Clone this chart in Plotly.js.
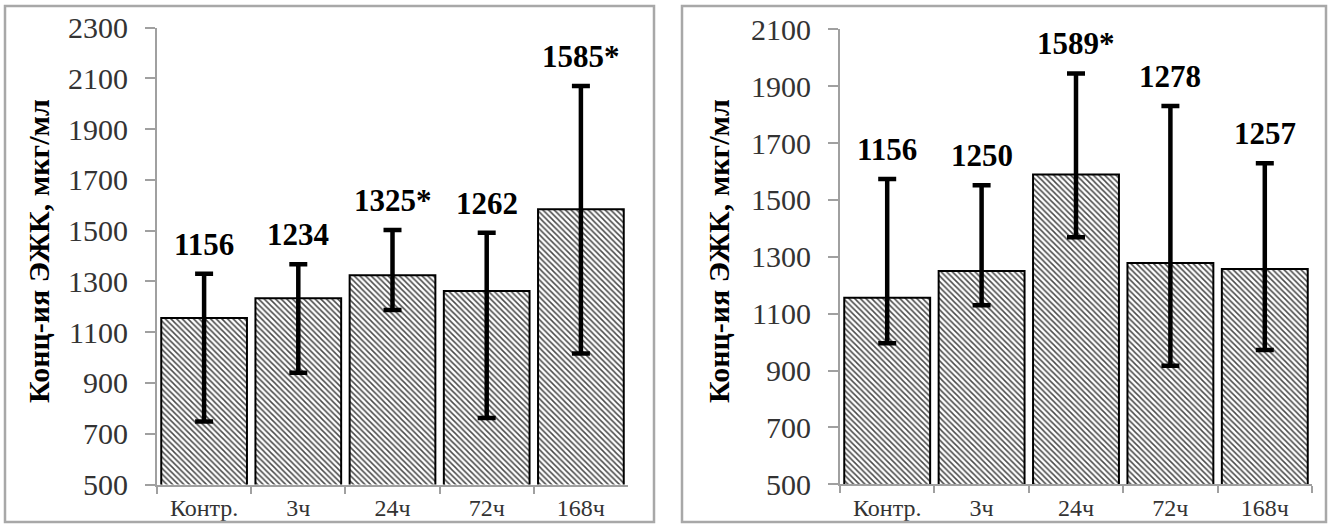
<!DOCTYPE html>
<html>
<head>
<meta charset="utf-8">
<script src="https://cdn.plot.ly/plotly-3.0.1.min.js"></script>
<style>html,body{margin:0;padding:0;background:#fff;}#chart{width:1330px;height:524px;}</style>
</head>
<body>
<div id="chart"></div>
<script>
// ---- data ----
const categories = ['Контр.', '3ч', '24ч', '72ч', '168ч'];

const leftMeans = [1156, 1234, 1325, 1262, 1585];
const leftErrPlus = [174, 134, 178, 230, 485];
const leftErrMinus = [408, 294, 137, 500, 569];
const leftMarks = ['', '', '*', '', '*'];

const rightMeans = [1156, 1250, 1589, 1278, 1257];
const rightErrPlus = [418, 302, 356, 552, 372];
const rightErrMinus = [160, 120, 220, 361, 285];
const rightMarks = ['', '', '*', '', ''];

const yTitle = 'Конц-ия ЭЖК, мкг/мл';

// ---- styling ----
const SERIF = '"Liberation Serif", "Times New Roman", serif';
const AXC = '#a0a0a0';
const W = 1330, H = 524;

function barTrace(means, ep, em, xa, ya) {
  return {
    type: 'bar', x: categories, y: means, xaxis: xa, yaxis: ya,
    marker: {
      color: 'white',
      line: {color: '#000', width: 2},
      pattern: {shape: '\\', size: 4, solidity: 0.38, fgcolor: '#4a4a4a', bgcolor: 'white', fillmode: 'replace'}
    },
    error_y: {type: 'data', symmetric: false, array: ep, arrayminus: em, color: '#000', thickness: 4.5, width: 9},
    hoverinfo: 'skip', showlegend: false
  };
}

function labelAnns(means, ep, marks, xr, yr) {
  return means.map((m, i) => ({
    xref: xr, yref: yr, x: categories[i], y: m + ep[i],
    text: String(m) + marks[i], showarrow: false,
    yanchor: 'bottom', yshift: 10,
    font: {family: SERIF, size: 31, color: '#000', weight: 'bold'}
  }));
}

const xCommon = {
  type: 'category', tickson: 'boundaries', ticks: 'outside', ticklen: 7,
  tickcolor: AXC, tickwidth: 2, showline: true, linecolor: AXC, linewidth: 2,
  showgrid: false, zeroline: false, fixedrange: true, ticklabelstandoff: 1,
  tickfont: {family: SERIF, size: 24, color: '#333'}
};
const yCommon = {
  ticks: 'outside', ticklen: 10, tickcolor: AXC, tickwidth: 2,
  showline: true, linecolor: AXC, linewidth: 2, showgrid: false, zeroline: false,
  tick0: 500, dtick: 200, fixedrange: true, ticklabelstandoff: 11,
  tickfont: {family: SERIF, size: 30, color: '#333'}
};

const layout = {
  width: W, height: H,
  margin: {l: 0, r: 0, t: 0, b: 0},
  paper_bgcolor: 'white', plot_bgcolor: 'white',
  bargap: 0.09, showlegend: false,
  xaxis: Object.assign({}, xCommon, {domain: [157 / W, 628 / W], anchor: 'y'}),
  yaxis: Object.assign({}, yCommon, {domain: [(H - 484.5) / H, (H - 27.7) / H], range: [500, 2300], anchor: 'x'}),
  xaxis2: Object.assign({}, xCommon, {domain: [840 / W, 1312 / W], anchor: 'y2'}),
  yaxis2: Object.assign({}, yCommon, {domain: [(H - 484.3) / H, (H - 29.3) / H], range: [500, 2100], anchor: 'x2'}),
  shapes: [
    {type: 'rect', xref: 'paper', yref: 'paper', x0: 5 / W, x1: 654 / W, y0: (H - 522) / H, y1: (H - 6) / H, line: {color: '#a8a8a8', width: 2.5}},
    {type: 'rect', xref: 'paper', yref: 'paper', x0: 682 / W, x1: 1326 / W, y0: (H - 522) / H, y1: (H - 6) / H, line: {color: '#a8a8a8', width: 2.5}}
  ],
  annotations: [].concat(
    labelAnns(leftMeans, leftErrPlus, leftMarks, 'x', 'y'),
    labelAnns(rightMeans, rightErrPlus, rightMarks, 'x2', 'y2'),
    [
      {xref: 'paper', yref: 'paper', x: 38 / W, y: (H - 251) / H, text: yTitle, textangle: -90, showarrow: false,
       xanchor: 'center', yanchor: 'middle', font: {family: SERIF, size: 30, color: '#000', weight: 'bold'}},
      {xref: 'paper', yref: 'paper', x: 718 / W, y: (H - 251) / H, text: yTitle, textangle: -90, showarrow: false,
       xanchor: 'center', yanchor: 'middle', font: {family: SERIF, size: 30, color: '#000', weight: 'bold'}}
    ]
  )
};

const data = [
  barTrace(leftMeans, leftErrPlus, leftErrMinus, 'x', 'y'),
  barTrace(rightMeans, rightErrPlus, rightErrMinus, 'x2', 'y2')
];

Plotly.newPlot('chart', data, layout, {staticPlot: true, displayModeBar: false});
</script>
</body>
</html>
